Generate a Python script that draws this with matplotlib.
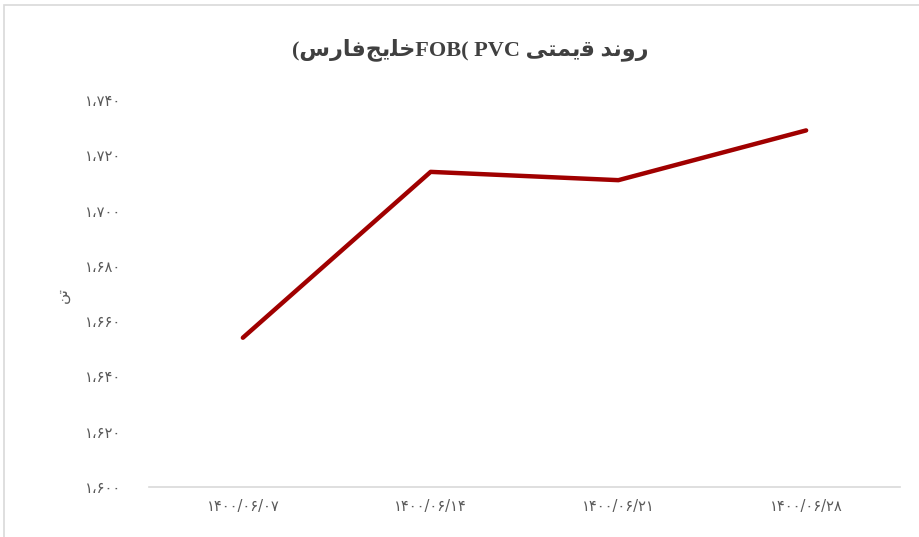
import matplotlib
matplotlib.use("Agg")
import matplotlib.pyplot as plt
from matplotlib.patches import Rectangle

# Data
dates = ["۱۴۰۰/۰۶/۰۷", "۱۴۰۰/۰۶/۱۴", "۱۴۰۰/۰۶/۲۱", "۱۴۰۰/۰۶/۲۸"]
prices = [1654, 1714, 1711, 1729]
y_ticks = [1600, 1620, 1640, 1660, 1680, 1700, 1720, 1740]

fa_digits = str.maketrans("0123456789", "۰۱۲۳۴۵۶۷۸۹")


def fa_num(v):
    s = f"{v:,}".replace(",", "،")
    return s.translate(fa_digits)


# Persian words in presentation forms, visual (left-to-right) order
ravand = "\uFEAA\uFEE7\uFEED\uFEAD"          # روند
gheymati = "\uFBFD\uFE98\uFEE4\uFBFE\uFED7"   # قیمتی
khalijfars = "\uFEB1\uFEAD\uFE8E\uFED3\uFE9E\uFBFE\uFEE0\uFEA7"  # خلیجفارس
title = "(" + khalijfars + "FOB( PVC " + gheymati + " " + ravand
ylabel = "\uFEE6\uFE97"  # تن

fig = plt.figure(figsize=(9.2, 5.37), dpi=100)
fig.patches.append(Rectangle((4 / 920, -0.1), 1.2, (537 - 5) / 537 + 0.1,
                             transform=fig.transFigure, fill=False,
                             edgecolor="#d9d9d9", linewidth=1.2))
ax = fig.add_axes([149 / 920, 1 - 487 / 537, (900 - 149) / 920, (487 - 100) / 537])

x = list(range(len(dates)))
ax.plot(x, prices, color="#a00000", linewidth=3.2, solid_capstyle="round",
        solid_joinstyle="round")

ax.set_xlim(-0.5, len(dates) - 0.5)
ax.set_ylim(1600, 1740)
ax.set_yticks(y_ticks)
ax.set_yticklabels([fa_num(v) for v in y_ticks], family=["DejaVu Sans"],
                   fontsize=10.5, color="#595959")
ax.set_xticks(x)
ax.set_xticklabels(dates, family=["DejaVu Sans"], fontsize=10.5, color="#595959")
ax.tick_params(axis="both", length=0)
ax.tick_params(axis="y", pad=20)
ax.tick_params(axis="x", pad=9)

for s in ["top", "right", "left"]:
    ax.spines[s].set_visible(False)
ax.spines["bottom"].set_color("#d9d9d9")
ax.spines["bottom"].set_linewidth(1.2)

fig.text(470 / 920, 1 - 50 / 537, title, ha="center", va="center",
         fontsize=16, fontweight="bold", color="#404040",
         family=["Liberation Serif", "DejaVu Sans"])
fig.text(62 / 920, 1 - 295 / 537, ylabel, rotation=90, ha="center", va="center",
         fontsize=11, color="#595959", family=["DejaVu Sans"])

fig.savefig("out.png", dpi=100)
